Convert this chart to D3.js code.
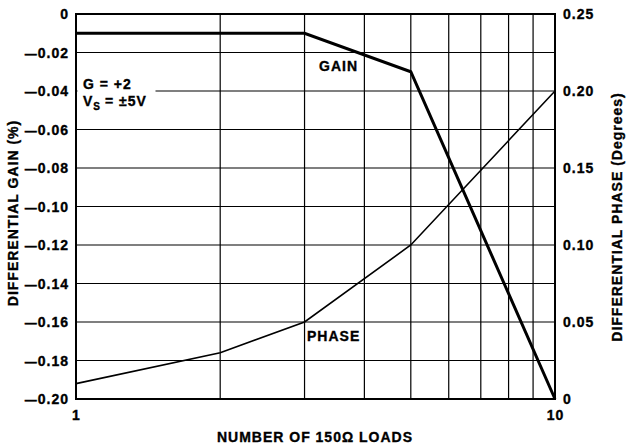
<!DOCTYPE html>
<html>
<head>
<meta charset="utf-8">
<script src="https://cdn.jsdelivr.net/npm/d3@7"></script>
<style>
  html, body { margin: 0; padding: 0; background: #fff; }
  svg text { font-family: "Liberation Sans", Arial, sans-serif; font-weight: bold; fill: #000; stroke: #000; stroke-width: 0.35px; font-size: 14px; letter-spacing: 1px; }
</style>
</head>
<body>
<svg id="chart" width="626" height="448"></svg>
<script>
// Number of 150-ohm loads (log axis)
const loads = [1, 2, 3, 4, 5, 6, 7, 8, 9, 10];
const xTickValues = [1, 10];

// Differential gain (%), left axis
const gainLoads = [1, 3, 5, 10];
const gainValues = [-0.01, -0.01, -0.03, -0.20];
const gainTicks = [0, -0.02, -0.04, -0.06, -0.08, -0.10, -0.12, -0.14, -0.16, -0.18, -0.20];

// Differential phase (degrees), right axis
const phaseLoads = [1, 2, 3, 5, 10];
const phaseValues = [0.01, 0.03, 0.05, 0.10, 0.20];
const phaseTicks = [0, 0.05, 0.10, 0.15, 0.20, 0.25];

const svg = d3.select("#chart");
const m = { left: 76, right: 555, top: 14, bottom: 399 };

const x = d3.scaleLog().domain([1, 10]).range([m.left, m.right]);
const yGain = d3.scaleLinear().domain([-0.20, 0]).range([m.bottom, m.top]);
const yPhase = d3.scaleLinear().domain([0, 0.25]).range([m.bottom, m.top]);

const fmtPos = v => v === 0 ? "0" : v.toFixed(2);

// Grid
const grid = svg.append("g");
grid.selectAll("line.v").data(loads.slice(1, -1)).join("line")
  .attr("x1", d => x(d)).attr("x2", d => x(d))
  .attr("y1", m.top).attr("y2", m.bottom)
  .attr("stroke", "#000").attr("stroke-width", 1.2);
grid.selectAll("line.h").data(gainTicks.slice(1, -1)).join("line")
  .attr("x1", m.left).attr("x2", m.right)
  .attr("y1", d => yGain(d)).attr("y2", d => yGain(d))
  .attr("stroke", "#000").attr("stroke-width", 1.2);

// Frame
svg.append("rect")
  .attr("x", m.left).attr("y", m.top)
  .attr("width", m.right - m.left).attr("height", m.bottom - m.top)
  .attr("fill", "none").attr("stroke", "#000").attr("stroke-width", 2);

// Left axis (gain) - negative labels use a long dash as the minus sign
const leftAxis = d3.axisLeft(yGain).tickValues(gainTicks).tickFormat(fmtPos).tickSize(0).tickPadding(7);
const gl = svg.append("g").attr("transform", `translate(${m.left},0)`).call(leftAxis);
gl.select(".domain").remove();
gl.selectAll("text").attr("dy", "0.35em").each(function(d) {
  const t = d3.select(this);
  t.text(null);
  if (d < 0) t.append("tspan").style("font-size", "12px").style("letter-spacing", "1px").text("\u2014");
  t.append("tspan").text(fmtPos(Math.abs(d)));
});

// Right axis (phase)
const rightAxis = d3.axisRight(yPhase).tickValues(phaseTicks).tickFormat(fmtPos).tickSize(0).tickPadding(8);
const gr = svg.append("g").attr("transform", `translate(${m.right},0)`).call(rightAxis);
gr.select(".domain").remove();
gr.selectAll("text").attr("dy", "0.35em");

// Bottom axis
const bottomAxis = d3.axisBottom(x).tickValues(xTickValues).tickFormat(d3.format("d")).tickSize(0).tickPadding(11);
const gb = svg.append("g").attr("transform", `translate(0,${m.bottom})`).call(bottomAxis);
gb.select(".domain").remove();

// Conditions note
svg.append("rect").attr("x", m.left + 1.5).attr("y", 74).attr("width", 78).attr("height", 37).attr("fill", "#fff");
svg.append("text").attr("x", 83).attr("y", 89).text("G = +2");
const vs = svg.append("text").attr("x", 83).attr("y", 106);
vs.append("tspan").text("V");
vs.append("tspan").attr("dy", 3.5).style("font-size", "10px").style("letter-spacing", "0px").text("S");
vs.append("tspan").attr("dy", -3.5).text(" = \u00B15V");

// Series
const gainLine = d3.line().x((d, i) => x(gainLoads[i])).y(d => yGain(d));
svg.append("path").datum(gainValues).attr("d", gainLine)
  .attr("fill", "none").attr("stroke", "#000").attr("stroke-width", 3).attr("stroke-linejoin", "miter");

const phaseLine = d3.line().x((d, i) => x(phaseLoads[i])).y(d => yPhase(d));
svg.append("path").datum(phaseValues).attr("d", phaseLine)
  .attr("fill", "none").attr("stroke", "#000").attr("stroke-width", 1.6);

// Series labels
svg.append("text").attr("x", 319).attr("y", 71).text("GAIN");
svg.append("text").attr("x", 307).attr("y", 341).text("PHASE");

// Axis titles
svg.append("text").attr("x", 315).attr("y", 442).attr("text-anchor", "middle")
  .text("NUMBER OF 150\u03A9 LOADS");
svg.append("text").attr("transform", "translate(17.5,213) rotate(-90)").attr("text-anchor", "middle")
  .text("DIFFERENTIAL GAIN (%)");
svg.append("text").attr("transform", "translate(622,217) rotate(-90)").attr("text-anchor", "middle")
  .text("DIFFERENTIAL PHASE (Degrees)");
</script>
</body>
</html>
